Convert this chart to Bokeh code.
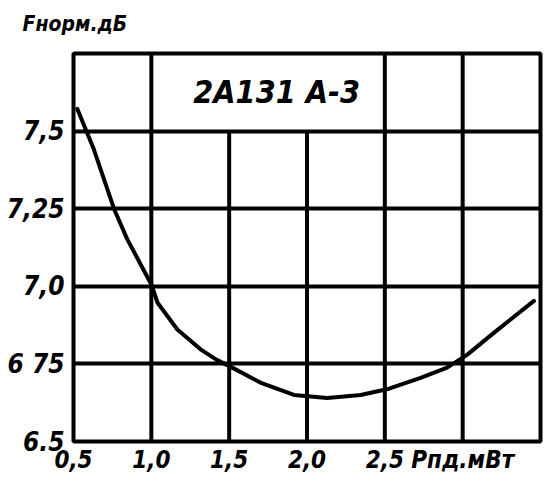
from bokeh.plotting import figure
from bokeh.models import FixedTicker, Title
from bokeh.core.properties import value
from bokeh.embed import file_html
from bokeh.resources import INLINE

# Data
p_mw = [0.524, 0.63, 0.76, 0.845, 1.0, 1.04, 1.167, 1.316, 1.42, 1.52, 1.70, 1.916,
        2.13, 2.345, 2.527, 2.73, 2.90, 3.03, 3.20, 3.458]
f_db = [7.572, 7.442, 7.25, 7.152, 7.006, 6.947, 6.861, 6.797, 6.763, 6.738, 6.69, 6.65,
        6.64, 6.65, 6.67, 6.705, 6.738, 6.78, 6.85, 6.953]

x_ticks = [0.5, 1.0, 1.5, 2.0, 2.5, 3.0]
x_tick_labels = ["0,5", "1,0", "1,5", "2,0", "2,5", "Pпд.мВт"]
y_ticks = [6.5, 6.75, 7.0, 7.25, 7.5]
y_tick_labels = ["6.5", "6 75", "7,0", "7,25", "7,5"]

# vertical grid lines (x, top)
vgrid_x = [1.0, 1.5, 2.0, 2.5, 3.0]
vgrid_top = [7.75, 7.5, 7.5, 7.75, 7.75]

title_text = "2A131 A-3"
y_title = "Fнорм.дБ"

FONT = "DejaVu Sans Condensed"

p = figure(width=545, height=480, x_range=(0.5, 3.5), y_range=(6.5, 7.75),
           output_backend="svg", toolbar_location=None,
           min_border_left=73, min_border_right=5, min_border_top=53, min_border_bottom=39)

p.outline_line_color = "black"
p.outline_line_width = 4
p.outline_line_alpha = 1
p.background_fill_color = "white"
p.border_fill_color = "white"

p.xgrid.visible = False
p.ygrid.ticker = FixedTicker(ticks=[6.75, 7.0, 7.25, 7.5])
p.ygrid.grid_line_color = "black"
p.ygrid.grid_line_width = 4
p.ygrid.grid_line_alpha = 1

p.segment(x0=vgrid_x, y0=[6.5] * len(vgrid_x), x1=vgrid_x, y1=vgrid_top,
          line_color="black", line_width=4)

p.line(p_mw, f_db, line_color="black", line_width=4, line_join="round", line_cap="round")

p.text(x=[1.805], y=[7.627], text=[title_text], text_font=value(FONT),
       text_font_style="bold italic", text_font_size="32px",
       text_align="center", text_baseline="middle", text_color="black")

for ax in (p.xaxis[0], p.yaxis[0]):
    ax.axis_line_color = None
    ax.major_tick_line_color = None
    ax.minor_tick_line_color = None
    ax.major_tick_out = 0
    ax.major_tick_in = 0
    ax.minor_tick_out = 0
    ax.minor_tick_in = 0
    ax.major_label_text_font = FONT
    ax.major_label_text_font_style = "bold italic"
    ax.major_label_text_color = "black"

p.xaxis.major_label_text_font_size = "24px"
p.yaxis.major_label_text_font_size = "26px"
p.xaxis.ticker = FixedTicker(ticks=x_ticks)
p.xaxis.major_label_overrides = {t: l for t, l in zip(x_ticks, x_tick_labels)}
p.xaxis.major_label_standoff = 4
p.yaxis.ticker = FixedTicker(ticks=y_ticks)
p.yaxis.major_label_overrides = {t: l for t, l in zip(y_ticks, y_tick_labels)}
p.yaxis.major_label_standoff = 9

# small spacer panel between the frame and the axis title
spacer = Title(text=" ", text_font_size="10px", standoff=0)
p.add_layout(spacer, "above")
t = Title(text=y_title, align="left", offset=-51, text_font=FONT,
          text_font_style="bold italic", text_font_size="21px", text_color="black")
p.add_layout(t, "above")

open("out.html", "w").write(file_html(p, INLINE))
